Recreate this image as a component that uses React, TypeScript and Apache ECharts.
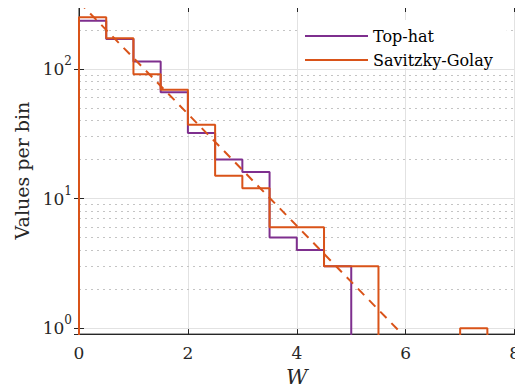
import React, { useEffect, useRef } from "react";
import * as echarts from "echarts";

// ---- data ----
const binEdges = [0, 0.5, 1, 1.5, 2, 2.5, 3, 3.5, 4, 4.5, 5, 5.5, 6, 6.5, 7, 7.5];
const topHatCounts = [235, 170, 114, 66, 32, 20, 16, 5, 4, 3, 0, 0, 0, 0, 0];
const savGolCounts = [250, 172, 91, 69, 37, 15, 12, 6, 6, 3, 3, 0, 0, 0, 1];
const fitLine: [number, number][] = [
  [0, 328],
  [5.88, 0.95],
];
const xTickValues = [0, 2, 4, 6, 8];
const yMinorGrid = [2, 3, 4, 5, 6, 7, 8, 9, 20, 30, 40, 50, 60, 70, 80, 90, 200, 300];
const seriesNames = ["Top-hat", "Savitzky-Golay"];

const X_MIN = 0;
const X_MAX = 8;
const Y_MIN = 0.9;
const Y_MAX = 300;
const FLOOR = 0.5; // below the axis: zero-count bins fall off the log axis

const FONT = "DejaVu Serif";
const AXIS_COLOR = "#262626";
const PURPLE = "#7E2F8E";
const ORANGE = "#D95319";

function stairs(counts: number[]): [number, number][] {
  const pts: [number, number][] = [];
  const v = (c: number) => (c > 0 ? c : FLOOR);
  pts.push([binEdges[0], FLOOR]);
  counts.forEach((c, i) => pts.push([binEdges[i], v(c)]));
  pts.push([binEdges[counts.length], v(counts[counts.length - 1])]);
  pts.push([binEdges[counts.length], FLOOR]);
  return pts;
}

function logLabel(val: number): string {
  const e = Math.log10(val);
  const r = Math.round(e);
  if (Math.abs(e - r) > 1e-6) return "";
  return `{b|10}{s|${r}}`;
}

export default function App() {
  const ref = useRef<HTMLDivElement>(null);

  useEffect(() => {
    if (!ref.current) return;
    const chart = echarts.init(ref.current, null, { renderer: "svg" });

    const option: any = {
      animation: false,
      backgroundColor: "#ffffff",
      grid: {
        left: 79,
        right: 7,
        top: 7,
        bottom: 57.5,
        show: true,
        borderColor: AXIS_COLOR,
        borderWidth: 1,
        backgroundColor: "transparent",
      },
      legend: {
        data: seriesNames,
        orient: "vertical",
        left: 298,
        top: 20,
        padding: [8, 14, 0, 6],
        itemWidth: 63,
        itemHeight: 16,
        itemGap: 8,
        itemStyle: { opacity: 0 },
        backgroundColor: "#ffffff",
        borderWidth: 0,
        textStyle: { fontFamily: FONT, fontSize: 16, color: "#000", lineHeight: 16 },
      },
      xAxis: [
        {
          type: "value",
          min: X_MIN,
          max: X_MAX,
          interval: 2,
          name: "W",
          nameLocation: "middle",
          nameGap: 31,
          nameTextStyle: { fontFamily: FONT, fontSize: 21, fontStyle: "italic", color: AXIS_COLOR },
          axisLine: { show: true, lineStyle: { color: AXIS_COLOR, width: 1 } },
          axisTick: { show: true, inside: true, length: 5, lineStyle: { color: AXIS_COLOR } },
          axisLabel: {
            fontFamily: FONT,
            fontSize: 17,
            color: AXIS_COLOR,
            margin: 10,
            formatter: (v: number) => (xTickValues.includes(v) ? String(v) : ""),
          },
          splitLine: { show: true, lineStyle: { color: "#e2e2e2", width: 1 } },
        },
        {
          type: "value",
          position: "top",
          min: X_MIN,
          max: X_MAX,
          interval: 2,
          axisLine: { show: true, lineStyle: { color: AXIS_COLOR, width: 1 } },
          axisTick: { show: true, inside: true, length: 5, lineStyle: { color: AXIS_COLOR } },
          axisLabel: { show: false },
          splitLine: { show: false },
        },
      ],
      yAxis: [
        {
          type: "log",
          logBase: 10,
          min: Y_MIN,
          max: Y_MAX,
          name: "Values per bin",
          nameLocation: "middle",
          nameGap: 44,
          nameTextStyle: { fontFamily: FONT, fontSize: 19, color: AXIS_COLOR },
          axisLine: { show: true, lineStyle: { color: AXIS_COLOR, width: 1 } },
          axisTick: { show: true, inside: true, length: 5, lineStyle: { color: AXIS_COLOR } },
          axisLabel: {
            margin: 7,
            showMinLabel: false,
            showMaxLabel: false,
            formatter: logLabel,
            rich: {
              b: { fontFamily: FONT, fontSize: 17, color: AXIS_COLOR },
              s: { fontFamily: FONT, fontSize: 12, color: AXIS_COLOR, padding: [0, 0, 16, 0] },
            },
          },
          splitLine: { show: true, lineStyle: { color: "#e2e2e2", width: 1 } },
        },
        {
          type: "log",
          logBase: 10,
          position: "right",
          min: Y_MIN,
          max: Y_MAX,
          axisLine: { show: true, lineStyle: { color: AXIS_COLOR, width: 1 } },
          axisTick: { show: true, inside: true, length: 5, lineStyle: { color: AXIS_COLOR } },
          axisLabel: { show: false },
          splitLine: { show: false },
        },
      ],
      series: [
        {
          name: "minor-grid",
          type: "line",
          data: [],
          silent: true,
          markLine: {
            silent: true,
            z: 1,
            symbol: ["none", "none"],
            label: { show: false },
            lineStyle: { color: "#c4c4c4", type: [2, 4], width: 1 },
            emphasis: { disabled: true },
            data: yMinorGrid.map((v) => ({ yAxis: v })),
          },
        },
        {
          name: seriesNames[0],
          type: "line",
          step: "end",
          data: stairs(topHatCounts),
          showSymbol: false,
          symbol: "none",
          lineStyle: { color: PURPLE, width: 2 },
          itemStyle: { color: PURPLE },
          clip: true,
          z: 3,
        },
        {
          name: seriesNames[1],
          type: "line",
          step: "end",
          data: stairs(savGolCounts),
          showSymbol: false,
          symbol: "none",
          lineStyle: { color: ORANGE, width: 2 },
          itemStyle: { color: ORANGE },
          clip: true,
          z: 4,
        },
        {
          name: "fit",
          type: "line",
          data: fitLine,
          showSymbol: false,
          symbol: "none",
          lineStyle: { color: ORANGE, width: 2, type: [9, 7] },
          itemStyle: { color: ORANGE },
          clip: true,
          z: 5,
        },
      ],
    };

    chart.setOption(option);
    return () => chart.dispose();
  }, []);

  return <div ref={ref} style={{ width: 523, height: 392, margin: -8 }} />;
}
